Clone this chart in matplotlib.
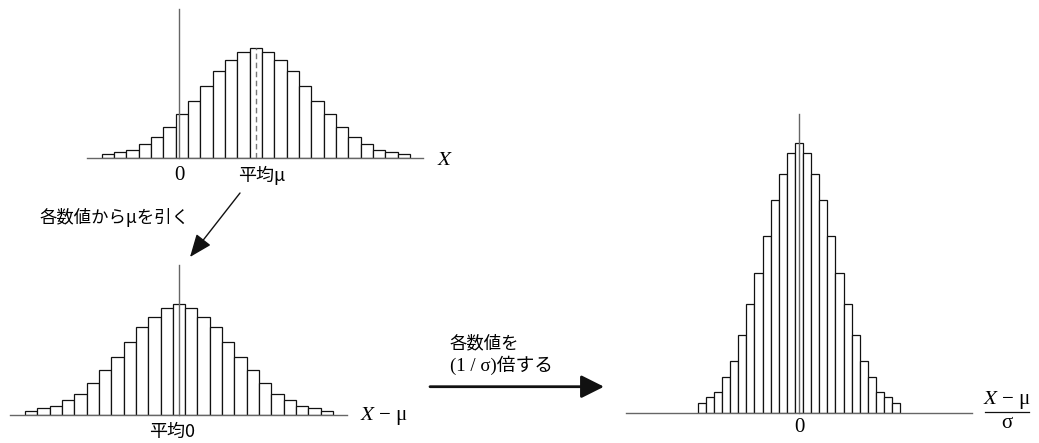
import numpy as np
import matplotlib
matplotlib.use("Agg")
import matplotlib.pyplot as plt

plt.rcParams['mathtext.fontset'] = 'stix'

W, H = 1039, 443

# bin positions (in bin widths) and frequencies
bin_index = list(range(-12, 13))
freq_x = [4, 6, 8.3, 14.7, 21.3, 31.7, 44.7, 57.3, 72.3, 87.3, 98, 106, 110.7,
          106, 98, 87.3, 72.3, 57.3, 44.7, 31.7, 21.3, 14.7, 8.3, 6, 4]
freq_centered = [4.3, 6.7, 8.7, 14.7, 21.3, 32, 44.7, 57.7, 72.7, 87.7, 98.3, 106.7, 111.3,
                 106.7, 98.3, 87.7, 72.7, 57.7, 44.7, 32, 21.3, 14.7, 8.7, 6.7, 4.3]
freq_std = [10.7, 16, 21, 36.7, 52.7, 78.3, 109.7, 140.7, 177, 213.3, 239.7, 260, 270.7,
            260, 239.7, 213.3, 177, 140.7, 109.7, 78.3, 52.7, 36.7, 21, 16, 10.7]
mu = 6.26
sigma = 1.52

ink = "#111111"
axis_col = "#666666"
cjk = ["Noto Sans CJK JP", "DejaVu Sans"]
serif = ["Liberation Serif", "DejaVu Serif"]
serif_cjk = ["Liberation Serif", "Noto Sans CJK JP"]


def panel(fig, left, right, base, top, zero, xscale):
    # axes placed by pixel box, data units chosen so that 1 unit = xscale px
    ax = fig.add_axes([left / W, 1 - base / H, (right - left) / W, (base - top) / H])
    ax.set_xlim((left - zero) / xscale, (right - zero) / xscale)
    ax.set_ylim(0, base - top)
    ax.axis("off")
    return ax


fig = plt.figure(figsize=(W / 100, H / 100), dpi=100)

# top: raw X
ax1 = panel(fig, 87, 423, 158.3, 9, 178.7, 12.33)
x1 = np.array(bin_index) + mu
ax1.bar(x1, freq_x, width=1.0, color="white", edgecolor=ink, linewidth=0.9, zorder=2)
ax1.axhline(0, color=axis_col, lw=1.0, clip_on=False, zorder=3)
ax1.axvline(0, color=axis_col, lw=1.0, clip_on=False, zorder=3)
ax1.plot([mu, mu], [0, max(freq_x)], color="#777777", lw=1.0, ls=(0, (4, 2.5)), zorder=3)

# bottom left: X - mu
ax2 = panel(fig, 10, 346.7, 415, 265, 179, 12.33)
ax2.bar(bin_index, freq_centered, width=1.0, color="white", edgecolor=ink, linewidth=0.9, zorder=2)
ax2.axhline(0, color=axis_col, lw=1.0, clip_on=False, zorder=3)
ax2.axvline(0, color=axis_col, lw=1.0, clip_on=False, zorder=3)

# right: (X - mu) / sigma
ax3 = panel(fig, 626, 971.7, 413.3, 114, 799, 8.1 * sigma)
z = np.array(bin_index) / sigma
ax3.bar(z, freq_std, width=1 / sigma, color="white", edgecolor=ink, linewidth=0.9, zorder=2)
ax3.axhline(0, color=axis_col, lw=1.0, clip_on=False, zorder=3)
ax3.axvline(0, color=axis_col, lw=1.0, clip_on=False, zorder=3)

# overlay in pixel coordinates for labels and arrows
ov = fig.add_axes([0, 0, 1, 1], facecolor="none")
ov.set_xlim(0, W)
ov.set_ylim(H, 0)
ov.axis("off")

ov.text(179, 175, "0", fontsize=15, family=serif, ha="center", va="center")
ov.text(262, 175, "平均μ", fontsize=13, family=cjk, ha="center", va="center")
ov.text(437, 159, "$X$", fontsize=15, ha="left", va="center")

ov.annotate("", xy=(190, 257), xytext=(240, 193),
            arrowprops=dict(arrowstyle="-|>,head_length=1.0,head_width=0.4",
                            color=ink, lw=1.0, mutation_scale=14, shrinkA=0, shrinkB=0))
ov.text(40, 217, "各数値からμを引く", fontsize=12.5, family=cjk, ha="left", va="center")

ov.text(172, 432, "平均0", fontsize=13, family=cjk, ha="center", va="center")
ov.text(360, 416, "$X$ − μ", fontsize=15, family=serif, ha="left", va="center")

ov.text(450, 343, "各数値を", fontsize=12.5, family=cjk, ha="left", va="center")
ov.text(450, 365, "(1 / σ)倍する", fontsize=13.5, family=serif_cjk, ha="left", va="center")
ov.annotate("", xy=(604, 386.7), xytext=(430, 386.7),
            arrowprops=dict(arrowstyle="-|>,head_length=1.0,head_width=0.5",
                            color=ink, lw=2.0, mutation_scale=14, shrinkA=0, shrinkB=0))

ov.text(799, 427, "0", fontsize=15, family=serif, ha="center", va="center")
ov.text(1007, 400, "$X$ − μ", fontsize=15, family=serif, ha="center", va="center")
ov.plot([985, 1029], [411.7, 411.7], color=ink, lw=0.9)
ov.text(1007, 424, "σ", fontsize=15, family=serif, ha="center", va="center")

fig.savefig("out.png", dpi=100)
